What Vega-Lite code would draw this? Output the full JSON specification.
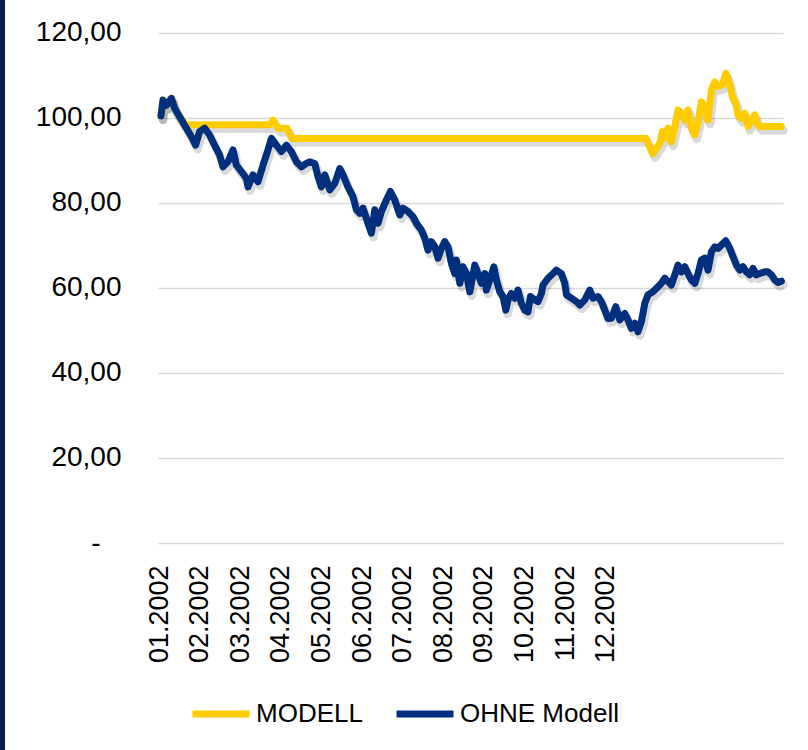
{
  "$schema": "https://vega.github.io/schema/vega-lite/v6.json",
  "padding": 0,
  "background": "white",
  "spacing": 30,
  "config": {
    "view": {"stroke": null},
    "font": "Liberation Sans"
  },
  "datasets": {
    "d": [
      {"s":"MODELL","t":1.5,"v":100.5},{"s":"MODELL","t":2.5,"v":104.2},{"s":"MODELL","t":4.2,"v":103},{"s":"MODELL","t":6.7,"v":104.6},{"s":"MODELL","t":8.3,"v":102.3},{"s":"MODELL","t":10.8,"v":100.3},{"s":"MODELL","t":12.5,"v":99.2},{"s":"MODELL","t":14,"v":98.4},{"s":"MODELL","t":56,"v":98.4},{"s":"MODELL","t":57.5,"v":99.5},{"s":"MODELL","t":60,"v":97.6},{"s":"MODELL","t":64.5,"v":97.6},{"s":"MODELL","t":67,"v":95.2},{"s":"MODELL","t":244,"v":95.2},{"s":"MODELL","t":245.9,"v":93.2},{"s":"MODELL","t":247.5,"v":91.6},{"s":"MODELL","t":249.2,"v":92.9},{"s":"MODELL","t":250.9,"v":94},{"s":"MODELL","t":252.2,"v":96.8},{"s":"MODELL","t":253.4,"v":95.2},{"s":"MODELL","t":255,"v":97.6},{"s":"MODELL","t":256.7,"v":94.4},{"s":"MODELL","t":258.4,"v":98},{"s":"MODELL","t":260,"v":101.9},{"s":"MODELL","t":261.7,"v":101.1},{"s":"MODELL","t":263.4,"v":99.5},{"s":"MODELL","t":265,"v":101.9},{"s":"MODELL","t":266.7,"v":97.6},{"s":"MODELL","t":268.4,"v":96},{"s":"MODELL","t":270,"v":99.1},{"s":"MODELL","t":271.7,"v":103.8},{"s":"MODELL","t":273.4,"v":102.7},{"s":"MODELL","t":275,"v":99.5},{"s":"MODELL","t":276.7,"v":106.6},{"s":"MODELL","t":278.4,"v":108.5},{"s":"MODELL","t":280,"v":107.4},{"s":"MODELL","t":282.2,"v":107.8},{"s":"MODELL","t":283.9,"v":110.5},{"s":"MODELL","t":285.5,"v":108.5},{"s":"MODELL","t":287.2,"v":105},{"s":"MODELL","t":288.9,"v":103.5},{"s":"MODELL","t":290,"v":100.7},{"s":"MODELL","t":291.7,"v":99.9},{"s":"MODELL","t":293.4,"v":101.1},{"s":"MODELL","t":295,"v":98},{"s":"MODELL","t":296.7,"v":99.5},{"s":"MODELL","t":298.4,"v":100.7},{"s":"MODELL","t":300,"v":98.4},{"s":"MODELL","t":300.9,"v":98},{"s":"MODELL","t":311.7,"v":98},
      {"s":"OHNE Modell","t":1.5,"v":100.5},{"s":"OHNE Modell","t":2.5,"v":104.2},{"s":"OHNE Modell","t":4.2,"v":103},{"s":"OHNE Modell","t":6.7,"v":104.6},{"s":"OHNE Modell","t":8.3,"v":102.3},{"s":"OHNE Modell","t":10.8,"v":100.3},{"s":"OHNE Modell","t":14.2,"v":97.6},{"s":"OHNE Modell","t":16.7,"v":95.6},{"s":"OHNE Modell","t":18.8,"v":93.6},{"s":"OHNE Modell","t":20.8,"v":96.8},{"s":"OHNE Modell","t":23.3,"v":97.6},{"s":"OHNE Modell","t":25.8,"v":96},{"s":"OHNE Modell","t":28.3,"v":93.6},{"s":"OHNE Modell","t":30.8,"v":91.3},{"s":"OHNE Modell","t":32.5,"v":88.5},{"s":"OHNE Modell","t":35,"v":89.7},{"s":"OHNE Modell","t":37.5,"v":92.5},{"s":"OHNE Modell","t":39.2,"v":88.9},{"s":"OHNE Modell","t":41.7,"v":87.4},{"s":"OHNE Modell","t":44.2,"v":85.8},{"s":"OHNE Modell","t":45,"v":83.8},{"s":"OHNE Modell","t":47.5,"v":86.6},{"s":"OHNE Modell","t":50,"v":85},{"s":"OHNE Modell","t":52.5,"v":88.9},{"s":"OHNE Modell","t":55,"v":92.5},{"s":"OHNE Modell","t":56.7,"v":95.2},{"s":"OHNE Modell","t":59.2,"v":93.6},{"s":"OHNE Modell","t":61.7,"v":92.1},{"s":"OHNE Modell","t":64.2,"v":93.6},{"s":"OHNE Modell","t":66.7,"v":92.1},{"s":"OHNE Modell","t":69.2,"v":89.7},{"s":"OHNE Modell","t":71.7,"v":88.5},{"s":"OHNE Modell","t":74.2,"v":89.3},{"s":"OHNE Modell","t":75.9,"v":89.7},{"s":"OHNE Modell","t":78.4,"v":89.3},{"s":"OHNE Modell","t":80,"v":86.2},{"s":"OHNE Modell","t":81.7,"v":83.8},{"s":"OHNE Modell","t":83.4,"v":86.6},{"s":"OHNE Modell","t":85.9,"v":83.1},{"s":"OHNE Modell","t":88.4,"v":84.6},{"s":"OHNE Modell","t":90.9,"v":88.1},{"s":"OHNE Modell","t":92.5,"v":86.6},{"s":"OHNE Modell","t":95,"v":83.8},{"s":"OHNE Modell","t":97.5,"v":81.5},{"s":"OHNE Modell","t":99.2,"v":78.4},{"s":"OHNE Modell","t":100.9,"v":77.6},{"s":"OHNE Modell","t":102.5,"v":78.8},{"s":"OHNE Modell","t":105,"v":75.2},{"s":"OHNE Modell","t":106.7,"v":72.9},{"s":"OHNE Modell","t":108.4,"v":78.4},{"s":"OHNE Modell","t":110,"v":75.2},{"s":"OHNE Modell","t":111.7,"v":78},{"s":"OHNE Modell","t":114.2,"v":80.7},{"s":"OHNE Modell","t":116.2,"v":82.7},{"s":"OHNE Modell","t":118.4,"v":80.7},{"s":"OHNE Modell","t":120.9,"v":77.2},{"s":"OHNE Modell","t":122.5,"v":78.8},{"s":"OHNE Modell","t":125,"v":78},{"s":"OHNE Modell","t":127.5,"v":76.8},{"s":"OHNE Modell","t":129.2,"v":75.2},{"s":"OHNE Modell","t":131.7,"v":73.6},{"s":"OHNE Modell","t":133.4,"v":71.7},{"s":"OHNE Modell","t":135,"v":68.9},{"s":"OHNE Modell","t":136.7,"v":70.9},{"s":"OHNE Modell","t":138.4,"v":69.7},{"s":"OHNE Modell","t":140,"v":67},{"s":"OHNE Modell","t":141.7,"v":69.3},{"s":"OHNE Modell","t":143.4,"v":70.9},{"s":"OHNE Modell","t":145,"v":69.7},{"s":"OHNE Modell","t":146.7,"v":65.8},{"s":"OHNE Modell","t":148.4,"v":63.4},{"s":"OHNE Modell","t":149.2,"v":66.6},{"s":"OHNE Modell","t":150.9,"v":61.1},{"s":"OHNE Modell","t":152.5,"v":65},{"s":"OHNE Modell","t":154.2,"v":63.4},{"s":"OHNE Modell","t":155.9,"v":59.1},{"s":"OHNE Modell","t":158.4,"v":65.4},{"s":"OHNE Modell","t":160,"v":63.4},{"s":"OHNE Modell","t":161.7,"v":61.1},{"s":"OHNE Modell","t":163.4,"v":63.4},{"s":"OHNE Modell","t":164.2,"v":59.5},{"s":"OHNE Modell","t":165.9,"v":61.9},{"s":"OHNE Modell","t":167.9,"v":65},{"s":"OHNE Modell","t":169.2,"v":61.9},{"s":"OHNE Modell","t":170.9,"v":59.1},{"s":"OHNE Modell","t":172.5,"v":58},{"s":"OHNE Modell","t":173.9,"v":54.8},{"s":"OHNE Modell","t":175,"v":57.2},{"s":"OHNE Modell","t":176.7,"v":58.7},{"s":"OHNE Modell","t":178.4,"v":57.6},{"s":"OHNE Modell","t":180,"v":59.5},{"s":"OHNE Modell","t":181.7,"v":56.4},{"s":"OHNE Modell","t":183.4,"v":54.8},{"s":"OHNE Modell","t":185,"v":54.4},{"s":"OHNE Modell","t":186.2,"v":58},{"s":"OHNE Modell","t":188.4,"v":57.2},{"s":"OHNE Modell","t":190,"v":56.8},{"s":"OHNE Modell","t":191.7,"v":58.7},{"s":"OHNE Modell","t":192.5,"v":60.7},{"s":"OHNE Modell","t":195,"v":62.3},{"s":"OHNE Modell","t":197.5,"v":63.4},{"s":"OHNE Modell","t":199.2,"v":64.2},{"s":"OHNE Modell","t":201.7,"v":63.4},{"s":"OHNE Modell","t":203.4,"v":61.1},{"s":"OHNE Modell","t":204.2,"v":58.4},{"s":"OHNE Modell","t":206.7,"v":57.6},{"s":"OHNE Modell","t":209.2,"v":56.8},{"s":"OHNE Modell","t":210.9,"v":56},{"s":"OHNE Modell","t":213.4,"v":57.2},{"s":"OHNE Modell","t":215.9,"v":59.5},{"s":"OHNE Modell","t":217.5,"v":57.6},{"s":"OHNE Modell","t":220,"v":58},{"s":"OHNE Modell","t":221.7,"v":56.8},{"s":"OHNE Modell","t":223.4,"v":54.8},{"s":"OHNE Modell","t":225,"v":52.8},{"s":"OHNE Modell","t":226.7,"v":52.9},{"s":"OHNE Modell","t":228.9,"v":55.6},{"s":"OHNE Modell","t":230.9,"v":52.5},{"s":"OHNE Modell","t":233.4,"v":54},{"s":"OHNE Modell","t":235,"v":52.5},{"s":"OHNE Modell","t":236.7,"v":50.5},{"s":"OHNE Modell","t":238.4,"v":51.7},{"s":"OHNE Modell","t":240,"v":49.7},{"s":"OHNE Modell","t":241.7,"v":52.1},{"s":"OHNE Modell","t":243.4,"v":56.4},{"s":"OHNE Modell","t":245,"v":58.4},{"s":"OHNE Modell","t":247.5,"v":59.1},{"s":"OHNE Modell","t":250,"v":60.3},{"s":"OHNE Modell","t":251.7,"v":61.1},{"s":"OHNE Modell","t":253.4,"v":62.3},{"s":"OHNE Modell","t":255,"v":61.5},{"s":"OHNE Modell","t":256.7,"v":60.7},{"s":"OHNE Modell","t":258.4,"v":63.1},{"s":"OHNE Modell","t":260,"v":65.4},{"s":"OHNE Modell","t":261.7,"v":63.8},{"s":"OHNE Modell","t":263.4,"v":65},{"s":"OHNE Modell","t":265,"v":63.4},{"s":"OHNE Modell","t":266.7,"v":61.9},{"s":"OHNE Modell","t":268.4,"v":61.1},{"s":"OHNE Modell","t":270,"v":63.4},{"s":"OHNE Modell","t":271.7,"v":66.6},{"s":"OHNE Modell","t":273.4,"v":67},{"s":"OHNE Modell","t":275,"v":64.2},{"s":"OHNE Modell","t":276.7,"v":68.5},{"s":"OHNE Modell","t":278.4,"v":69.7},{"s":"OHNE Modell","t":280,"v":69.3},{"s":"OHNE Modell","t":281.7,"v":70.1},{"s":"OHNE Modell","t":283.9,"v":71.1},{"s":"OHNE Modell","t":285.9,"v":69.3},{"s":"OHNE Modell","t":287.5,"v":67.4},{"s":"OHNE Modell","t":289.2,"v":65.4},{"s":"OHNE Modell","t":290.9,"v":64.2},{"s":"OHNE Modell","t":292.5,"v":65},{"s":"OHNE Modell","t":294.2,"v":63.8},{"s":"OHNE Modell","t":295.9,"v":63.1},{"s":"OHNE Modell","t":297.5,"v":64.6},{"s":"OHNE Modell","t":299.2,"v":63.1},{"s":"OHNE Modell","t":300.9,"v":63.4},{"s":"OHNE Modell","t":303.4,"v":63.8},{"s":"OHNE Modell","t":305,"v":63.8},{"s":"OHNE Modell","t":306.7,"v":63.1},{"s":"OHNE Modell","t":308.4,"v":61.9},{"s":"OHNE Modell","t":310,"v":61.3},{"s":"OHNE Modell","t":311.7,"v":61.6}
    ]
  },
  "hconcat": [
    {
      "width": 5,
      "height": 750,
      "data": {"values": []},
      "mark": {"type": "rule", "opacity": 0},
      "encoding": {},
      "view": {"fill": "#0b1f4e", "stroke": null}
    },
    {
      "width": 625,
      "height": 543,
      "data": {"name": "d"},
      "layer": [
        {
          "mark": {"type": "line", "strokeWidth": 8.5, "opacity": 0.15, "xOffset": 2, "yOffset": 4, "strokeJoin": "round", "strokeCap": "round"},
          "encoding": {
            "x": {"field": "t", "type": "quantitative"},
            "y": {"field": "v", "type": "quantitative"},
            "detail": {"field": "s"},
            "color": {"value": "#000000"}
          }
        },
        {
          "mark": {"type": "line", "strokeWidth": 7, "strokeJoin": "round", "strokeCap": "round"},
          "encoding": {
            "x": {
              "field": "t", "type": "quantitative",
              "scale": {"domain": [0, 312.5], "nice": false, "zero": false},
              "axis": {
                "title": null, "grid": false, "domain": false, "ticks": false,
                "values": [0.5, 20.8, 41.1, 61.4, 81.7, 102, 122.3, 142.6, 162.9, 183.2, 203.5, 223.8],
                "labelExpr": "['01.2002','02.2002','03.2002','04.2002','05.2002','06.2002','07.2002','08.2002','09.2002','10.2002','11.2002','12.2002'][round((datum.value-0.5)/20.3)]",
                "labelAngle": -90, "labelFont": "Liberation Sans", "labelFontSize": 27, "labelColor": "#000000", "labelPadding": 22, "labelOverlap": false, "labelFlush": false
              }
            },
            "y": {
              "field": "v", "type": "quantitative",
              "scale": {"domain": [0, 127.76], "nice": false},
              "axis": {
                "title": null, "domain": false, "ticks": false,
                "values": [0, 20, 40, 60, 80, 100, 120],
                "labelExpr": "datum.value == 0 ? '-\u2800' : replace(format(datum.value, '.2f'), '.', ',')",
                "labelFont": "Liberation Sans", "labelFontSize": 28, "labelColor": "#000000", "labelPadding": 37,
                "gridColor": "#d9d9d9", "gridWidth": 1.5, "labelOverlap": false, "labelFlush": false
              }
            },
            "color": {
              "field": "s", "type": "nominal",
              "scale": {"domain": ["MODELL", "OHNE Modell"], "range": ["#FFCC00", "#00307D"]},
              "legend": {
                "title": null, "orient": "none", "legendX": 189, "legendY": 682, "direction": "horizontal",
                "labelFont": "Liberation Sans", "labelFontSize": 26, "labelColor": "#000000", "labelLimit": 400,
                "symbolType": "stroke", "symbolSize": 3249, "symbolStrokeWidth": 7, "labelOffset": 3,
                "columnPadding": 19, "padding": 0
              }
            }
          }
        }
      ]
    }
  ]
}
